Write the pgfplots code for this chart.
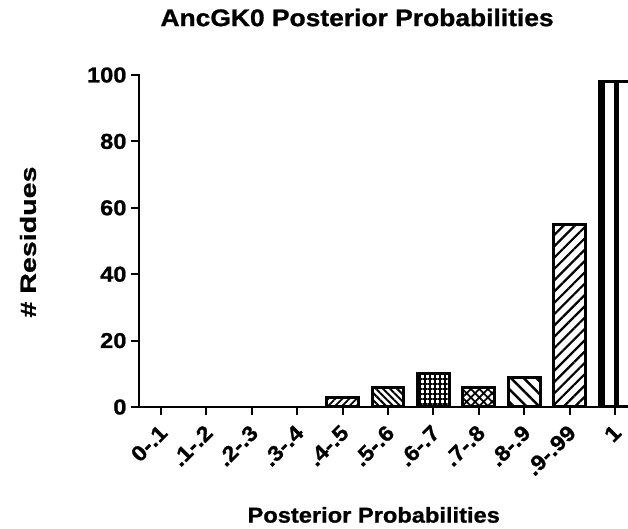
\documentclass[border=0pt]{standalone}
\usepackage{fontspec}
\setmainfont{Liberation Sans}
\newfontfamily\hfont{Liberation Sans}[UprightFont=*-Bold,FakeStretch=1.1,FakeBold=1]
\newfontfamily\vfont{Liberation Sans}[UprightFont=*-Bold,FakeStretch=1.3,FakeBold=1]
\usepackage{pgfplots}
\pgfplotsset{compat=1.18}
\usetikzlibrary{patterns.meta}
\begin{document}
\begin{tikzpicture}
\useasboundingbox (0,0) rectangle (628pt,529pt);
\begin{axis}[
  at={(139pt,122pt)}, anchor=south west,
  scale only axis, width=489pt, height=332pt,
  xmin=-0.485, xmax=10.286, ymin=0, ymax=100,
  axis x line*=bottom, axis y line*=left,
  axis line style={line width=2.4pt, line cap=rect},
  ybar, bar width=0.7,
  xtick={0,...,10},
  xticklabels={0-.1,.1-.2,.2-.3,.3-.4,.4-.5,.5-.6,.6-.7,.7-.8,.8-.9,.9-.99,1},
  ytick={0,20,40,60,80,100},
  tick align=outside, major tick length=8pt,
  tick style={line width=2pt, black},
  /pgf/number format/assume math mode=true,
  ticklabel style={font=\hfont\fontsize{21.5}{22}\selectfont},
  xticklabel style={xshift=-3pt, yshift=-7pt, rotate=45, anchor=north east, inner sep=1pt},
  yticklabel style={xshift=-1pt},
  title={AncGK0 Posterior Probabilities},
  title style={font=\hfont\fontsize{24}{24}\selectfont, at={(0.446,1.155)}, anchor=center},
  xlabel={Posterior Probabilities},
  xlabel style={font=\hfont\fontsize{21.5}{22}\selectfont, at={(0.48,-0.325)}, anchor=center},
  ylabel={\# Residues},
  ylabel style={font=\vfont\fontsize{22}{22}\selectfont, at={(-0.227,0.497)}, anchor=center},
  clip=true,
]
\addplot[bar shift=0pt, draw=black, line width=3pt, pattern={Lines[angle=45,distance=5pt,line width=1.8pt]}, pattern color=black] coordinates {(4,3)};
\addplot[bar shift=0pt, draw=black, line width=3pt, pattern={Lines[angle=-45,distance=5pt,line width=2pt]}, pattern color=black] coordinates {(5,6)};
\addplot[bar shift=0pt, draw=black, line width=3pt, pattern={Hatch[angle=0,distance=5pt,line width=1.6pt]}, pattern color=black] coordinates {(6,10)};
\addplot[bar shift=0pt, draw=black, line width=3pt, pattern={Hatch[angle=45,distance=6pt,line width=1.8pt]}, pattern color=black] coordinates {(7,6)};
\addplot[bar shift=0pt, draw=black, line width=3pt, pattern={Lines[angle=-45,distance=9pt,line width=2.5pt]}, pattern color=black] coordinates {(8,9)};
\addplot[bar shift=0pt, draw=black, line width=3pt, pattern={Lines[angle=45,distance=8pt,line width=2.2pt]}, pattern color=black] coordinates {(9,55)};
\addplot[bar shift=0pt, draw=black, line width=3pt, pattern={Lines[angle=90,distance=14pt,line width=5pt]}, pattern color=black] coordinates {(10,98)};
\end{axis}
\end{tikzpicture}
\end{document}
